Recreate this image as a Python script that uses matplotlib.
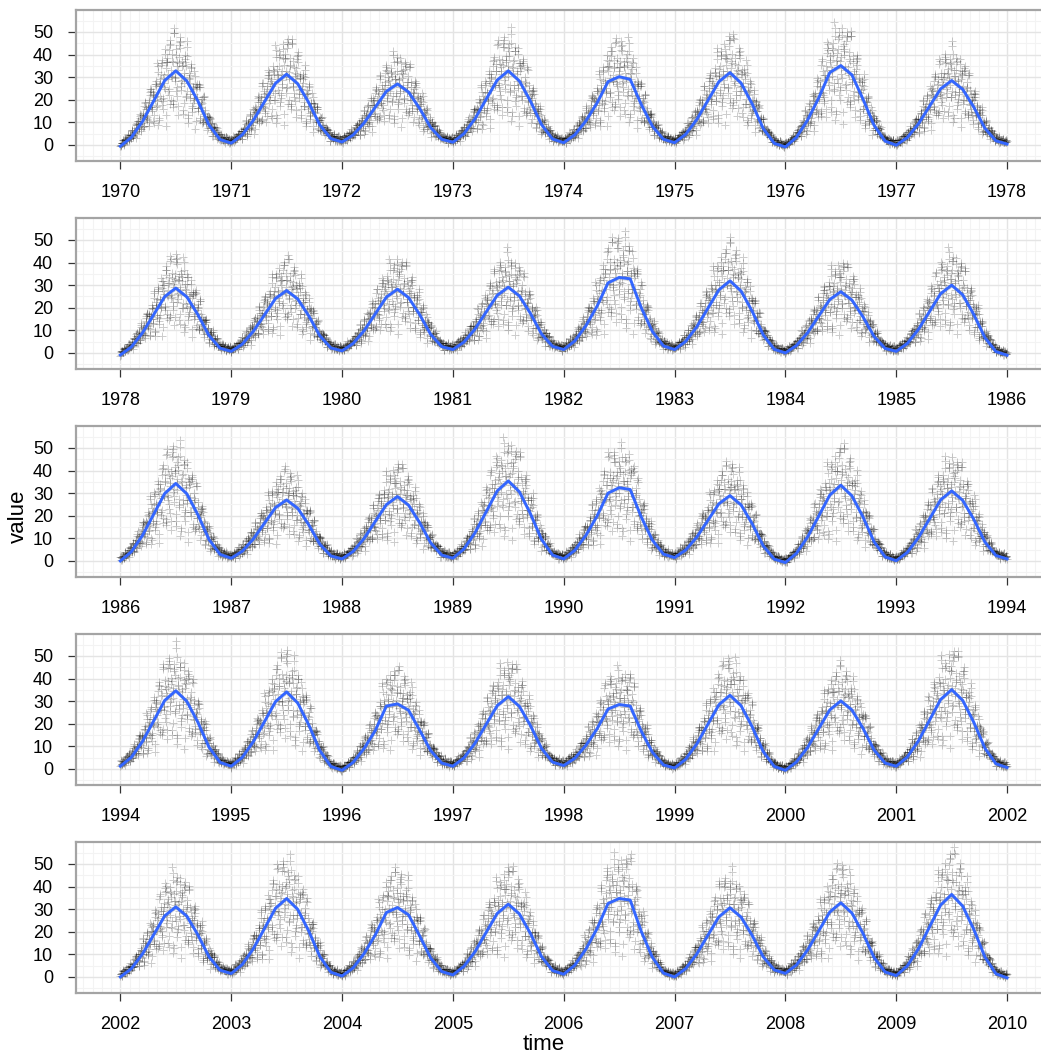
import numpy as np
import matplotlib
matplotlib.use("Agg")
import matplotlib.pyplot as plt
from matplotlib.ticker import MultipleLocator, FixedLocator

plt.rcParams['font.family'] = ['Liberation Sans', 'DejaVu Sans']

# ---------------- data ----------------
panel_starts = [1970, 1978, 1986, 1994, 2002]
years_per_panel = 8
y_ticks = [0, 10, 20, 30, 40, 50]

# smoothed curve, one vertex every 0.1 year (10 per year + panel end)
smooth_1970 = [-0.6, 3.4, 10.4, 19.4, 28.5, 32.8, 28.3, 19.4, 8.8, 2.4,
               0.8, 4.5, 10.9, 19.1, 27.3, 31.3, 27.1, 18.7, 8.8, 2.8,
               1.3, 4.4, 9.8, 16.7, 23.7, 27.0, 23.4, 16.2, 7.7, 2.5,
               1.2, 5.0, 11.6, 20.2, 28.7, 32.8, 28.3, 19.4, 9.0, 2.6,
               1.0, 4.5, 10.6, 18.5, 28.0, 30.2, 29.0, 17.9, 8.3, 2.5,
               1.0, 4.7, 11.2, 19.6, 28.0, 32.0, 27.4, 18.2, 7.3, 0.7,
               -0.9, 3.4, 11.0, 20.7, 32.0, 35.1, 31.0, 20.3, 8.7, 1.7,
               -0.1, 3.3, 9.3, 17.1, 24.8, 28.5, 24.6, 16.7, 7.4, 1.8,
               0.4]
smooth_1978 = [-0.9, 2.7, 8.9, 16.9, 24.9, 28.7, 24.8, 16.9, 7.7, 2.1,
               0.7, 3.9, 9.6, 16.8, 24.1, 27.6, 23.9, 16.4, 7.6, 2.2,
               0.9, 4.2, 9.9, 17.3, 24.7, 28.2, 24.5, 17.0, 8.2, 2.8,
               1.5, 4.8, 10.6, 18.1, 25.5, 29.1, 25.2, 17.5, 8.4, 2.9,
               1.5, 5.3, 12.0, 20.6, 31.0, 33.4, 32.8, 20.0, 9.5, 3.1,
               1.5, 5.1, 11.5, 19.7, 27.9, 31.9, 27.4, 18.5, 8.0, 1.6,
               0.0, 3.3, 8.9, 16.3, 23.6, 27.1, 23.4, 16.0, 7.3, 2.0,
               0.7, 4.2, 10.4, 18.3, 26.2, 30.0, 25.7, 17.0, 6.8, 0.6,
               -1.0]
smooth_1986 = [0.0, 4.1, 11.3, 20.6, 29.8, 34.3, 29.7, 20.4, 9.5, 2.9,
               1.2, 4.3, 9.7, 16.7, 23.6, 27.0, 23.3, 16.0, 7.4, 2.2,
               0.9, 4.2, 10.0, 17.5, 24.9, 28.5, 24.7, 17.0, 8.0, 2.6,
               1.2, 5.3, 12.5, 21.7, 31.0, 35.4, 30.6, 20.9, 9.5, 2.6,
               0.9, 4.7, 11.3, 19.8, 30.0, 32.4, 31.6, 19.4, 9.2, 3.0,
               1.5, 4.8, 10.5, 17.9, 25.3, 28.9, 24.8, 16.5, 6.7, 0.8,
               -0.7, 3.4, 10.6, 19.8, 29.1, 33.5, 28.8, 19.5, 8.5, 1.8,
               0.1, 3.8, 10.3, 18.6, 27.0, 31.0, 26.8, 18.4, 8.4, 2.4,
               0.9]
smooth_1994 = [1.2, 5.2, 12.2, 21.2, 30.3, 34.6, 29.9, 20.6, 9.6, 2.9,
               1.2, 5.1, 12.1, 20.9, 29.8, 34.1, 29.2, 19.5, 8.1, 1.1,
               -0.6, 2.9, 9.1, 17.0, 27.8, 28.8, 26.0, 17.2, 8.1, 2.6,
               1.2, 4.9, 11.4, 19.7, 28.0, 32.0, 27.7, 19.2, 9.1, 3.0,
               1.5, 4.7, 10.4, 17.7, 26.5, 28.5, 27.8, 16.7, 7.4, 1.8,
               0.4, 4.3, 11.0, 19.7, 28.4, 32.6, 28.0, 18.7, 7.7, 1.1,
               -0.6, 3.1, 9.5, 17.8, 26.1, 30.1, 26.1, 18.0, 8.4, 2.6,
               1.2, 5.3, 12.4, 21.5, 30.7, 35.1, 30.3, 20.6, 9.2, 2.3,
               0.6]
smooth_2002 = [0.0, 3.7, 10.2, 18.6, 27.0, 31.0, 26.9, 18.6, 8.9, 3.0,
               1.5, 5.5, 12.5, 21.4, 30.4, 34.7, 29.9, 20.3, 9.0, 2.1,
               0.4, 4.0, 10.4, 18.6, 28.5, 30.7, 27.5, 18.2, 8.4, 2.4,
               0.9, 4.7, 11.2, 19.7, 28.1, 32.2, 27.9, 19.2, 9.0, 2.8,
               1.2, 5.2, 12.3, 21.3, 32.5, 34.7, 34.0, 20.1, 8.7, 1.7,
               0.0, 3.7, 10.1, 18.4, 26.6, 30.6, 26.5, 18.4, 8.9, 3.1,
               1.6, 5.3, 11.9, 20.3, 28.7, 32.8, 28.3, 19.3, 8.6, 2.2,
               0.6, 4.9, 12.4, 22.1, 31.8, 36.5, 31.3, 21.0, 8.8, 1.4,
               -0.4]
smooths = [smooth_1970, smooth_1978, smooth_1986, smooth_1994, smooth_2002]

# daily relative departures from the smooth, as a repeating run pattern
daily_departures = [0.42, 0.48, 0.55, 0.50, 0.38, -0.10, -0.22, -0.15, -0.05,
                    0.12, 0.20, 0.15, -0.45, -0.52, -0.40, 0.05, 0.00, -0.08,
                    0.30, 0.36, 0.28, 0.22, -0.25, -0.30, -0.20, 0.60, 0.52,
                    0.45, -0.65, -0.55, -0.60, 0.10, 0.18, 0.08, 0.02, -0.12,
                    -0.18, 0.25, 0.33, 0.40, 0.35, -0.35, -0.42, -0.30, -0.28,
                    0.05, 0.12, -0.02, -0.08, -0.15, 0.48, 0.40, 0.30, -0.70,
                    -0.58, 0.15, 0.22, 0.28, 0.20, -0.05, 0.02, -0.20, -0.26,
                    -0.18, 0.38, 0.45, 0.50, 0.44, -0.40, -0.33, 0.00, 0.06,
                    -0.04, 0.18, 0.26, 0.14, -0.50, -0.45, -0.38, 0.55, 0.62,
                    0.50, -0.10, -0.16, -0.06, 0.32, 0.24, -0.28, -0.22, -0.34,
                    0.08, 0.14, 0.04, -0.60, -0.48, 0.20, 0.12]

# ---------------- drawing ----------------
W, H = 1041, 1057
fig = plt.figure(figsize=(W / 100, H / 100), dpi=100)
fig.patch.set_facecolor('white')

R = np.array(daily_departures)
R = R - R.mean()
L = len(R)
day_counter = 0

for i, (start, sm) in enumerate(zip(panel_starts, smooths)):
    top = 10 + 208 * i
    ax = fig.add_axes([76 / W, 1 - (top + 151) / H, (1051.4 - 76) / W, 151 / H])
    sm = np.array(sm)
    xs_sm = start + np.arange(len(sm)) / 10.0

    xs, vals = [], []
    for yr in range(start, start + years_per_panel):
        n = 366 if (yr % 4 == 0 and (yr % 100 != 0 or yr % 400 == 0)) else 365
        x = yr + np.arange(n) / n
        idx = (day_counter + np.arange(n)) % L
        idx2 = (day_counter + np.arange(n) + 41) % L
        day_counter += n
        s = np.interp(x, xs_sm, sm)
        v = s + R[idx] * 0.5 * np.clip(s, 0, None) ** 1.2 + 0.9 + 1.8 * R[idx2]
        xs.append(x)
        vals.append(v)
    xs = np.concatenate(xs)
    vals = np.concatenate(vals)

    ax.plot(xs, vals, linestyle='none', marker='+', markersize=5.2,
            markeredgewidth=0.7, color='black', alpha=0.2, zorder=2)
    ax.fill_between(xs_sm, sm - 0.9, sm + 0.9, color='#999999', alpha=0.35,
                    linewidth=0, zorder=3)
    ax.plot(xs_sm, sm, color='#3366FF', linewidth=2.1, zorder=4,
            solid_joinstyle='round')

    ax.set_xlim(start - 0.4, start + years_per_panel + 0.4)
    ax.set_ylim(-7.1, 59.7)
    xt = list(range(start, start + years_per_panel + 1))
    ax.xaxis.set_major_locator(FixedLocator(xt))
    ax.set_xticklabels([str(t) for t in xt])
    ax.yaxis.set_major_locator(FixedLocator(y_ticks))
    ax.set_yticklabels([str(t) for t in y_ticks])
    ax.xaxis.set_minor_locator(MultipleLocator(1 / 12))
    ax.yaxis.set_minor_locator(MultipleLocator(5))

    ax.set_axisbelow(True)
    ax.grid(which='minor', color='#f3f3f3', linewidth=0.8, zorder=0)
    ax.grid(which='major', color='#e4e4e4', linewidth=1.0, zorder=0)

    ax.tick_params(which='major', direction='out', length=6, width=0.9,
                   color='#333333', pad=10.5, labelsize=13, labelcolor='black')
    ax.tick_params(which='minor', length=0)
    for sp in ax.spines.values():
        sp.set_color('#a4a4a4')
        sp.set_linewidth(1.6)

fig.text(18 / W, 1 - 516 / H, 'value', rotation=90, ha='center', va='center',
         fontsize=16, color='black')
fig.text(544 / W, 1 - 1044 / H, 'time', ha='center', va='center',
         fontsize=16, color='black')

fig.savefig('out.png', dpi=100, facecolor='white')
